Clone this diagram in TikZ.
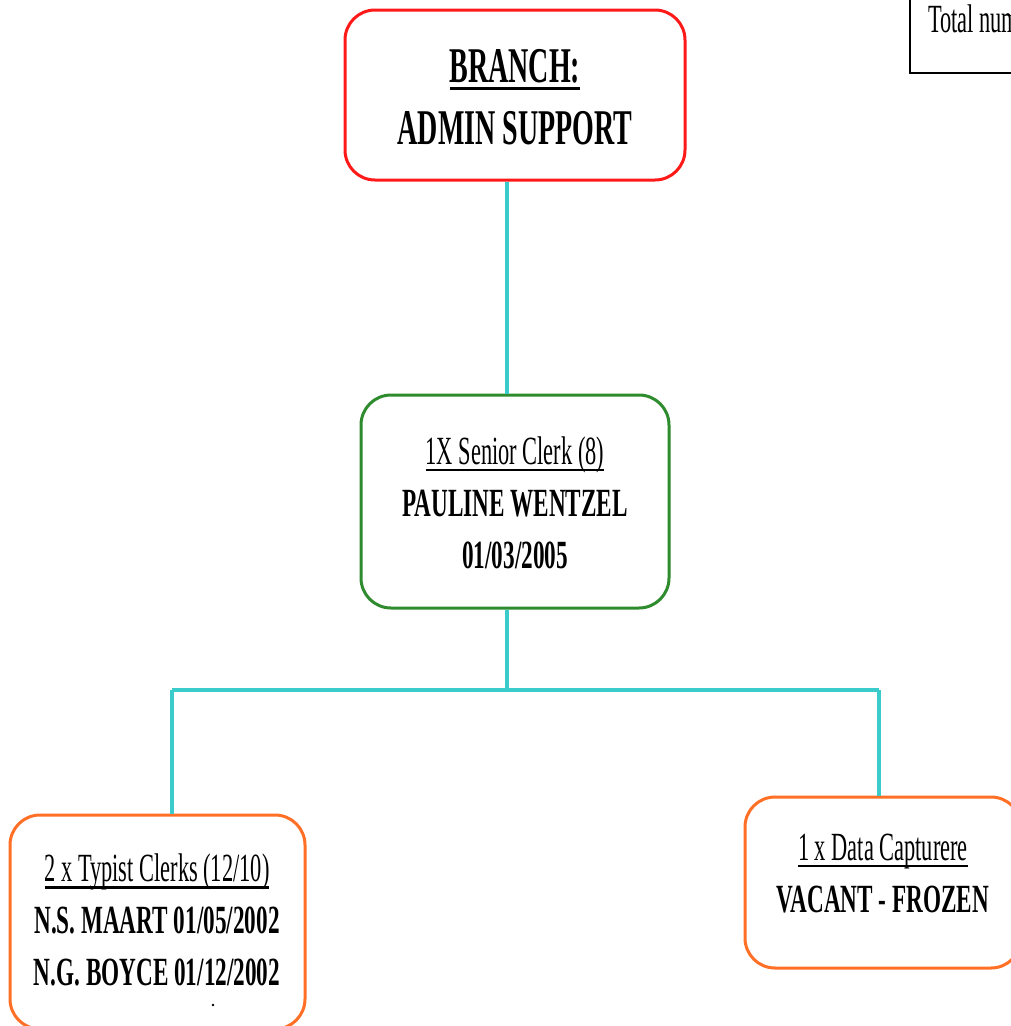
\documentclass[tikz,border=0pt]{standalone}
\usepackage{fontspec}
\setmainfont[FakeStretch=0.56]{Liberation Serif}
% slightly wider face for the names and dates
\newfontfamily\namefont[FakeStretch=0.58]{Liberation Serif}
\definecolor{boxred}{HTML}{FF1A1A}
\definecolor{boxgreen}{HTML}{2E8B2E}
\definecolor{boxorange}{HTML}{FF6F26}
\definecolor{linkteal}{HTML}{3CCBCB}
% heading underline: a thick rule set just below the baseline
\newcommand\headul[1]{\setbox0\hbox{#1}\rlap{\rule[-7pt]{\wd0}{2.5pt}}\box0}
\newcommand\nameline[1]{{\namefont\bfseries #1}}
\begin{document}
\begin{tikzpicture}[x=1pt,y=-1pt,
  unitbox/.style={draw, rounded corners=30pt, line width=3pt, fill=white,
    inner sep=0pt, minimum width=#1},
  boxtext/.style={align=center, inner sep=0pt,
    font=\fontsize{40}{52}\selectfont},
  link/.style={draw=linkteal, line width=3.2pt}]
\useasboundingbox (0,0) rectangle (1011,1026);
\clip (0,0) rectangle (1011,1026);
\fill[white] (0,0) rectangle (1011,1026);

% junction points of the connector tree
\coordinate (trunk) at (507,690);
\coordinate (busL) at (172,690);
\coordinate (busR) at (879,690);

% boxes
\node[unitbox=340pt, draw=boxred, minimum height=170pt] (admin) at (515,95) {};
\node[unitbox=308pt, draw=boxgreen, minimum height=213pt] (senior) at (515,501.5) {};
\node[unitbox=295pt, draw=boxorange, minimum height=214pt] (typist) at (157.5,922) {};
\node[unitbox=276pt, draw=boxorange, minimum height=171pt] (capture) at (883,882.5) {};
\node[draw=black, line width=2.5pt, inner sep=0pt, minimum width=140pt,
  minimum height=86pt] (total) at (980,30) {};

% connectors
\path[link] (admin.south -| trunk) -- (senior.north -| trunk);
\path[link] (senior.south -| trunk) -- (trunk);
\path[link] (busL) -- (busR);
\path[link] (busL) -- (typist.north -| busL);
\path[link] (busR) -- (capture.north -| busR);

% texts
\node[boxtext, font=\fontsize{50}{62}\selectfont\bfseries] (admintext) at (515,97.5)
  {\headul{BRANCH:}\\ADMIN SUPPORT};
\node[boxtext] (seniortext) at (515,502.5)
  {\headul{1X Senior Clerk (8)}\\\nameline{PAULINE WENTZEL}\\\nameline{01/03/2005}};
\node[boxtext] (typisttext) at (157,920)
  {\headul{2 x Typist Clerks (12/10)}\\\nameline{N.S. MAART 01/05/2002}\\\nameline{N.G. BOYCE 01/12/2002}};
\node[boxtext] (capturetext) at (883,873.5)
  {\headul{1 x Data Capturere}\\\nameline{VACANT - FROZEN}};
\node[anchor=base west, inner sep=0pt, font=\fontsize{40}{52}\selectfont] (totaltext) at (928,32)
  {Total number of posts};
\fill (213,1005) circle (1.3pt);
\end{tikzpicture}
\end{document}
